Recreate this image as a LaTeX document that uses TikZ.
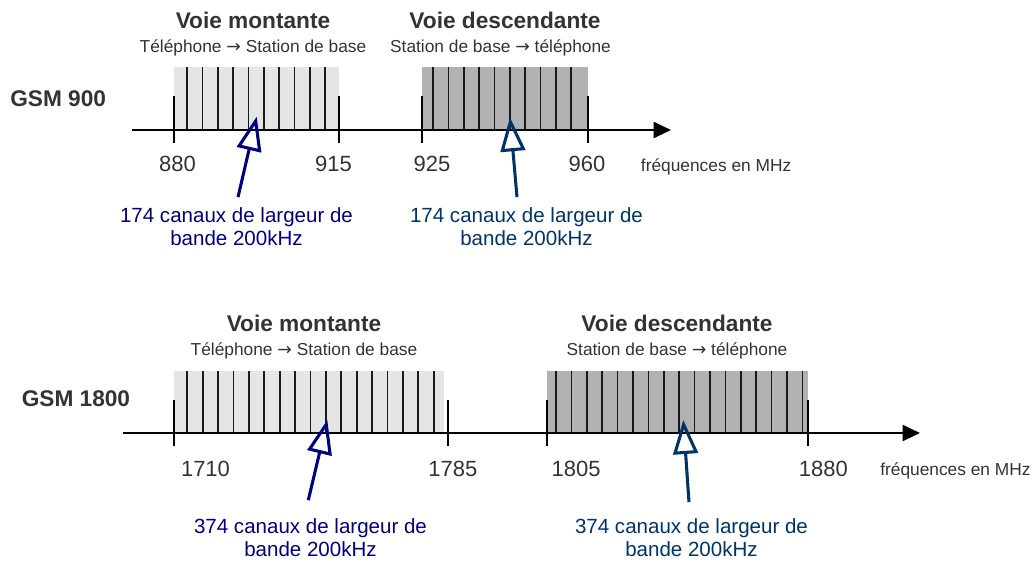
\documentclass[tikz,border=0pt]{standalone}
\usepackage{fontspec}
\setmainfont{Liberation Sans}
\newfontfamily\fleches{DejaVu Sans}
\usepackage{tikz}
\usetikzlibrary{ arrows.meta, calc }
\definecolor{texte}{RGB}{51,51,51}
\definecolor{clair}{RGB}{229,229,229}
\definecolor{fonce}{RGB}{178,178,178}
\definecolor{bleuA}{RGB}{0,0,128}
\definecolor{bleuB}{RGB}{0,51,102}
\newcommand{\vers}{{\fleches →}}
\tikzset{
titre/.style={font=\bfseries\fontsize{17}{20}\selectfont, text=texte, inner sep=0pt, anchor=base}, % Voie montante / descendante
sens/.style={font=\fontsize{13}{16}\selectfont, text=texte, inner sep=0pt, anchor=base}, % direction of the link
gsm/.style={font=\bfseries\fontsize{17}{20}\selectfont, text=texte, inner sep=0pt, anchor=base west},
freq/.style={font=\fontsize{16.5}{20}\selectfont, text=texte, inner sep=0pt, anchor=base}, % band limits
unite/.style={font=\fontsize{13}{16}\selectfont, text=texte, inner sep=0pt, anchor=base west},
canaux/.style={font=\fontsize{15.4}{17.25}\selectfont, align=center, inner sep=0pt, anchor=base}, % base = last line
fleche/.style={line width=2.3pt, -{Triangle[open, length=25.5pt, width=18.5pt]}}, % hollow pointer
axe/.style={line width=1.5pt, -{Triangle[length=13pt, width=12pt]}},
borne/.style={line width=1.5pt},
canal/.style={line width=1.3pt, black!90},
}
\begin{document}
\begin{tikzpicture}[x=0.75pt, y=-0.75pt]%one unit is one pixel
  \useasboundingbox (0,0) rectangle (1036,561);

  % GSM 900
  \fill[clair] (174,67) rectangle (339,130);
  \fill[fonce] (422,67) rectangle (588,130);
  \foreach \k in {0,...,9} {
    \draw[canal] ({187.3+15.3*\k},67) -- ({187.3+15.3*\k},130);
    \draw[canal] ({433.3+15.3*\k},67) -- ({433.3+15.3*\k},130);
  }
  \draw[axe] (131.7,130) -- (671,130);
  \foreach \x in {174,339,422,588}
    \draw[borne] (\x,96) -- (\x,142.7);

  \node[gsm] (g900) at (10,106) {GSM 900};
  \node[titre] (vmA) at (253,28.3) {Voie montante};
  \node[sens] (smA) at (253,52.3) {Téléphone \vers{} Station de base};
  \node[titre] (vdA) at (505,28.3) {Voie descendante};
  \node[sens] (sdA) at (500.5,52.3) {Station de base \vers{} téléphone};
  \node[freq] (f880) at (177.5,171.7) {880};
  \node[freq] (f915) at (333.5,171.7) {915};
  \node[freq] (f925) at (432,171.7) {925};
  \node[freq] (f960) at (587,171.7) {960};
  \node[unite] (uA) at (640.7,171) {fréquences en MHz};
  \node[canaux, text=bleuA] (lblA) at (236.5,245.3) {174 canaux de largeur de\\bande 200kHz};
  \node[canaux, text=bleuB] (lblB) at (526.5,245.3) {174 canaux de largeur de\\bande 200kHz};
  \coordinate (tipA) at (256.7,116.7);
  \coordinate (tipB) at (510,117.3);

  % GSM 1800
  \fill[clair] (174,371) rectangle (444,433);
  \fill[fonce] (547.3,371) rectangle (808,433);
  \foreach \k in {0,...,16} {
    \draw[canal] ({187.3+15.4*\k},371) -- ({187.3+15.4*\k},433);
    \draw[canal] ({556+15.4*\k},371) -- ({556+15.4*\k},433);
  }
  \draw[axe] (123.3,433) -- (920,433);
  \foreach \x in {174,447.7,547.3,808}
    \draw[borne] (\x,400) -- (\x,446);

  \node[gsm] (g1800) at (21.5,406) {GSM 1800};
  \node[titre] (vmB) at (304,331.7) {Voie montante};
  \node[sens] (smB) at (304,355) {Téléphone \vers{} Station de base};
  \node[titre] (vdB) at (677,331.7) {Voie descendante};
  \node[sens] (sdB) at (677,355) {Station de base \vers{} téléphone};
  \node[freq] (f1710) at (205.5,476.7) {1710};
  \node[freq] (f1785) at (452.8,476.7) {1785};
  \node[freq] (f1805) at (576.2,476.7) {1805};
  \node[freq] (f1880) at (823.3,476.7) {1880};
  \node[unite] (uB) at (880,475) {fréquences en MHz};
  \node[canaux, text=bleuA] (lblC) at (310.5,556.3) {374 canaux de largeur de\\bande 200kHz};
  \node[canaux, text=bleuB] (lblD) at (691.5,556.3) {374 canaux de largeur de\\bande 200kHz};
  \coordinate (tipC) at (327.3,420);
  \coordinate (tipD) at (683.3,420);

  \draw[fleche, bleuA] ($(lblA.north)+(1.5,-10)$) -- (tipA);
  \draw[fleche, bleuB] ($(lblB.north)+(-9.5,-10)$) -- (tipB);
  \draw[fleche, bleuA] ($(lblC.north)+(-2.2,-18)$) -- (tipC);
  \draw[fleche, bleuB] ($(lblD.north)+(-2.5,-16)$) -- (tipD);
\end{tikzpicture}
\end{document}
